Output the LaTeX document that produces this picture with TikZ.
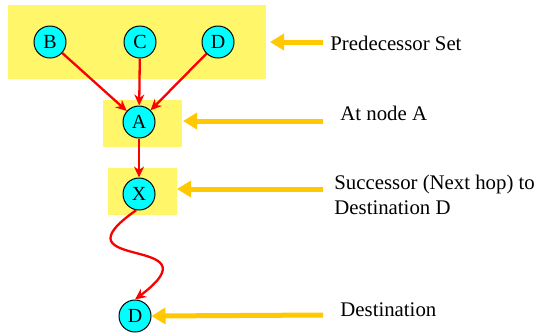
\documentclass[tikz,border=0pt]{standalone}
\usepackage{fontspec}
\setmainfont{Liberation Serif}
\usetikzlibrary{arrows.meta}
\definecolor{boxyellow}{RGB}{255,246,105}
\definecolor{arrowyellow}{RGB}{255,200,0}
\definecolor{nodecyan}{RGB}{0,255,255}
\definecolor{edgered}{RGB}{250,0,0}
\tikzset{
  vertex/.style={circle,draw=black,line width=0.5pt,fill=nodecyan,minimum size=16pt,inner sep=0pt,font=\fontsize{10}{12}\selectfont},
  region/.style={fill=boxyellow,draw=none},
  redge/.style={draw=edgered,line width=1.15pt,-{Stealth[length=5.5pt,width=5pt]}},
  pointer/.style={draw=arrowyellow,line width=2.5pt,-{Triangle[length=7pt,width=8pt]}},
  label/.style={anchor=base west,inner sep=0pt,align=left,font=\fontsize{10.4}{12.5}\selectfont},
}
\begin{document}
\begin{tikzpicture}[x=0.5pt,y=-0.5pt]
\useasboundingbox (0,0) rectangle (539,333);
% yellow regions
\fill[region] (8,5) rectangle (266,79);
\fill[region] (103,100) rectangle (182,147);
\fill[region] (108,168) rectangle (177,215);
% nodes
\node[vertex] (B) at (50,42) {B};
\node[vertex] (C) at (140,42) {C};
\node[vertex] (D) at (218,42) {D};
\node[vertex] (A) at (139,122) {A};
\node[vertex] (X) at (139,194) {X};
\node[vertex] (Dd) at (135,316) {D};
% red edges
\draw[redge] (B) -- (A);
\draw[redge] (C) -- (A);
\draw[redge] (D) -- (A);
\draw[redge] (A) -- (X);
\draw[redge] (X.260) .. controls (48,272) and (222,234) .. (Dd.north);
% labels
\node[label] (tP) at (330,50) {Predecessor Set};
\node[label] (tA) at (340,120) {At node A};
\node[label] (tS) at (334,214) {Successor (Next hop) to\\Destination D};
\node[label] (tD) at (340,316) {Destination};
% pointers
\coordinate (pP) at (323,42);
\coordinate (pA) at (323,121);
\coordinate (pS) at (323,189);
\coordinate (pD) at (323,315);
\draw[pointer] (pP) -- (270,42);
\draw[pointer] (pA) -- (183,121);
\draw[pointer] (pS) -- (177,189);
\draw[pointer] (pD) -- (Dd.east);
\end{tikzpicture}
\end{document}
